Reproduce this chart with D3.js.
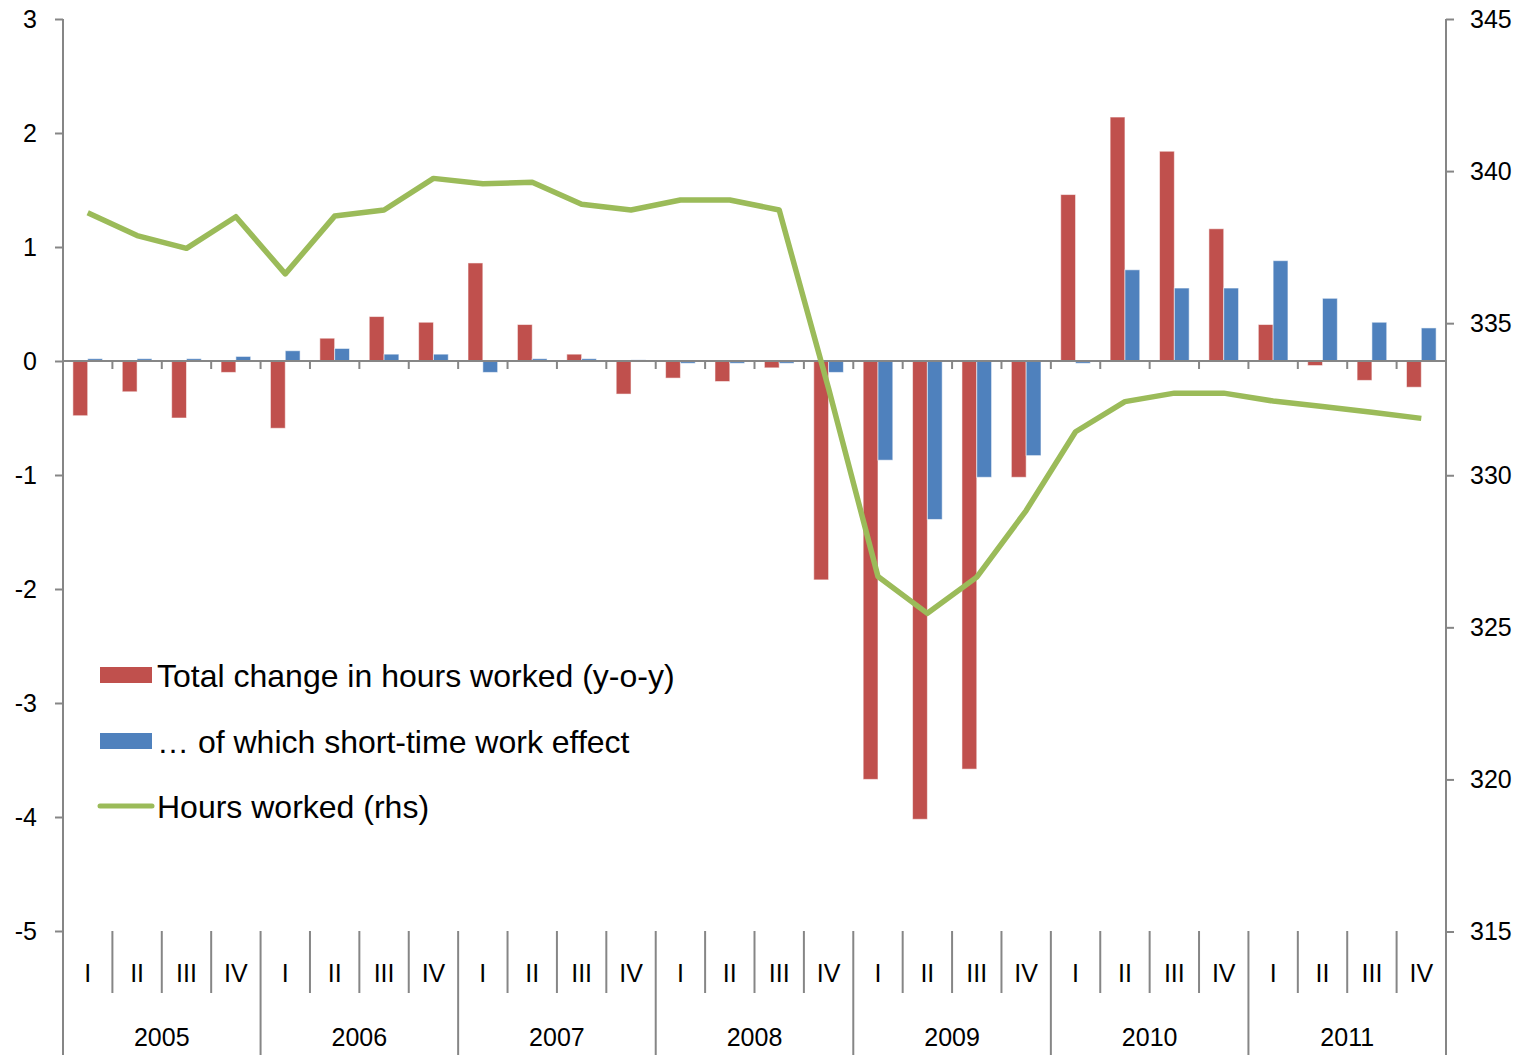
<!DOCTYPE html>
<html lang="en">
<head>
  <meta charset="utf-8">
  <title>Hours worked and short-time work</title>
  <script src="https://d3js.org/d3.v7.min.js"></script>
  <style>
    body { margin: 0; background: #fff; }
    svg text { font-family: "Liberation Sans", Arial, sans-serif; fill: #000; }
  </style>
</head>
<body>
<div id="chart"></div>
<script>
  // quarters 2005 I .. 2011 IV
  const years = ["2005", "2006", "2007", "2008", "2009", "2010", "2011"];
  const quarters = ["I", "II", "III", "IV"];

  // total change in hours worked, y-o-y (lhs)
  const totalChange = [
    -0.48, -0.27, -0.50, -0.10,
    -0.59, 0.20, 0.39, 0.34,
    0.86, 0.32, 0.06, -0.29,
    -0.15, -0.18, -0.06, -1.92,
    -3.67, -4.02, -3.58, -1.02,
    1.46, 2.14, 1.84, 1.16,
    0.32, -0.04, -0.17, -0.23
  ];
  // ... of which short-time work effect (lhs)
  const shortTime = [
    0.02, 0.02, 0.02, 0.04,
    0.09, 0.11, 0.06, 0.06,
    -0.10, 0.02, 0.02, 0.01,
    -0.02, -0.02, -0.02, -0.10,
    -0.87, -1.39, -1.02, -0.83,
    -0.02, 0.80, 0.64, 0.64,
    0.88, 0.55, 0.34, 0.29
  ];
  // hours worked (rhs)
  const hoursWorked = [
    338.63, 337.88, 337.46, 338.50,
    336.62, 338.52, 338.72, 339.76,
    339.58, 339.63, 338.91, 338.72,
    339.05, 339.05, 338.72, 332.85,
    326.67, 325.46, 326.65, 328.84,
    331.43, 332.42, 332.70, 332.70,
    332.44, 332.26, 332.07, 331.87
  ];

  const leftTicks = [-5, -4, -3, -2, -1, 0, 1, 2, 3];
  const rightTicks = [315, 320, 325, 330, 335, 340, 345];

  const W = 1527, H = 1059;
  const mLeft = 63, mRight = 1446, mTop = 19, plotBottom = 931, axisBottom = 1055;
  const axisColor = "#868686";
  const red = "#C0504D", blue = "#4F81BD", green = "#9BBB59";

  const svg = d3.select("#chart").append("svg")
    .attr("width", W)
    .attr("height", H);

  const n = totalChange.length;
  const x = d3.scaleBand().domain(d3.range(n)).range([mLeft, mRight]);
  const yL = d3.scaleLinear().domain([-5, 3]).range([plotBottom, mTop]);
  const yR = d3.scaleLinear().domain([315, 345]).range([plotBottom + 0.5, mTop]);
  const barW = x.bandwidth() * 0.3;

  // bars
  const cx = i => x(i) + x.bandwidth() / 2;
  svg.append("g").selectAll("rect")
    .data(totalChange)
    .join("rect")
    .attr("x", (d, i) => cx(i) - barW)
    .attr("width", barW)
    .attr("y", d => yL(Math.max(0, d)))
    .attr("height", d => Math.abs(yL(d) - yL(0)))
    .attr("fill", red)
    .attr("stroke", "rgba(255,255,255,0.55)")
    .attr("stroke-width", 1);

  svg.append("g").selectAll("rect")
    .data(shortTime)
    .join("rect")
    .attr("x", (d, i) => cx(i))
    .attr("width", barW)
    .attr("y", d => yL(Math.max(0, d)))
    .attr("height", d => Math.abs(yL(d) - yL(0)))
    .attr("fill", blue)
    .attr("stroke", "rgba(255,255,255,0.55)")
    .attr("stroke-width", 1);

  // zero line with category ticks
  const zero = yL(0);
  svg.append("line")
    .attr("x1", mLeft).attr("x2", mRight)
    .attr("y1", zero).attr("y2", zero)
    .attr("stroke", axisColor).attr("stroke-width", 2);
  svg.append("g").selectAll("line")
    .data(d3.range(1, n + 1))
    .join("line")
    .attr("x1", i => i < n ? x(i) : mRight).attr("x2", i => i < n ? x(i) : mRight)
    .attr("y1", zero).attr("y2", zero + 8)
    .attr("stroke", axisColor).attr("stroke-width", 2);

  // left axis (plain hyphen for negatives, like the original)
  const gL = svg.append("g")
    .attr("transform", `translate(${mLeft},0)`)
    .call(d3.axisLeft(yL).tickValues(leftTicks).tickSize(8).tickPadding(18)
      .tickFormat(d => String(d)));
  gL.select(".domain").remove();
  gL.selectAll(".tick line").attr("stroke", axisColor).attr("stroke-width", 2);
  gL.selectAll(".tick text").attr("font-size", 25).attr("font-family", "Liberation Sans, Arial, sans-serif");

  // right axis
  const gR = svg.append("g")
    .attr("transform", `translate(${mRight},0)`)
    .call(d3.axisRight(yR).tickValues(rightTicks).tickSize(8).tickPadding(16)
      .tickFormat(d => String(d)));
  gR.select(".domain").remove();
  gR.selectAll(".tick line").attr("stroke", axisColor).attr("stroke-width", 2);
  gR.selectAll(".tick text").attr("font-size", 25).attr("font-family", "Liberation Sans, Arial, sans-serif");

  // axis lines, running down through the category area
  [mLeft, mRight].forEach(xx => {
    svg.append("line")
      .attr("x1", xx).attr("x2", xx)
      .attr("y1", mTop).attr("y2", axisBottom)
      .attr("stroke", axisColor).attr("stroke-width", 2);
  });

  // category separators: quarters short, years long
  svg.append("g").selectAll("line")
    .data(d3.range(1, n))
    .join("line")
    .attr("x1", i => x(i)).attr("x2", i => x(i))
    .attr("y1", plotBottom)
    .attr("y2", i => i % 4 === 0 ? axisBottom : 993)
    .attr("stroke", axisColor).attr("stroke-width", 2);

  // quarter labels
  svg.append("g").selectAll("text")
    .data(d3.range(n))
    .join("text")
    .attr("x", i => cx(i))
    .attr("y", 973)
    .attr("text-anchor", "middle")
    .attr("dominant-baseline", "central")
    .attr("font-size", 25)
    .text(i => quarters[i % 4]);

  // year labels
  svg.append("g").selectAll("text")
    .data(years)
    .join("text")
    .attr("x", (d, j) => (x(j * 4) + (j * 4 + 4 < n ? x(j * 4 + 4) : mRight)) / 2)
    .attr("y", 1037)
    .attr("text-anchor", "middle")
    .attr("dominant-baseline", "central")
    .attr("font-size", 25)
    .text(d => d);

  // hours worked line
  const line = d3.line()
    .x((d, i) => cx(i))
    .y(d => yR(d));
  svg.append("path")
    .datum(hoursWorked)
    .attr("d", line)
    .attr("fill", "none")
    .attr("stroke", green)
    .attr("stroke-width", 5.5)
    .attr("stroke-linejoin", "round");

  // legend
  const legend = svg.append("g");
  const items = [
    { label: "Total change in hours worked (y-o-y)", color: red, type: "bar", y: 675 },
    { label: "\u2026 of which short-time work effect", color: blue, type: "bar", y: 741 },
    { label: "Hours worked (rhs)", color: green, type: "line", y: 806 }
  ];
  items.forEach(it => {
    if (it.type === "bar") {
      legend.append("rect")
        .attr("x", 100).attr("y", it.y - 8)
        .attr("width", 52).attr("height", 16)
        .attr("fill", it.color);
    } else {
      legend.append("line")
        .attr("x1", 100).attr("x2", 152)
        .attr("y1", it.y).attr("y2", it.y)
        .attr("stroke", it.color).attr("stroke-width", 5)
        .attr("stroke-linecap", "round");
    }
    legend.append("text")
      .attr("x", 157).attr("y", it.y + 1)
      .attr("dominant-baseline", "central")
      .attr("font-size", 32)
      .text(it.label);
  });
</script>
</body>
</html>
